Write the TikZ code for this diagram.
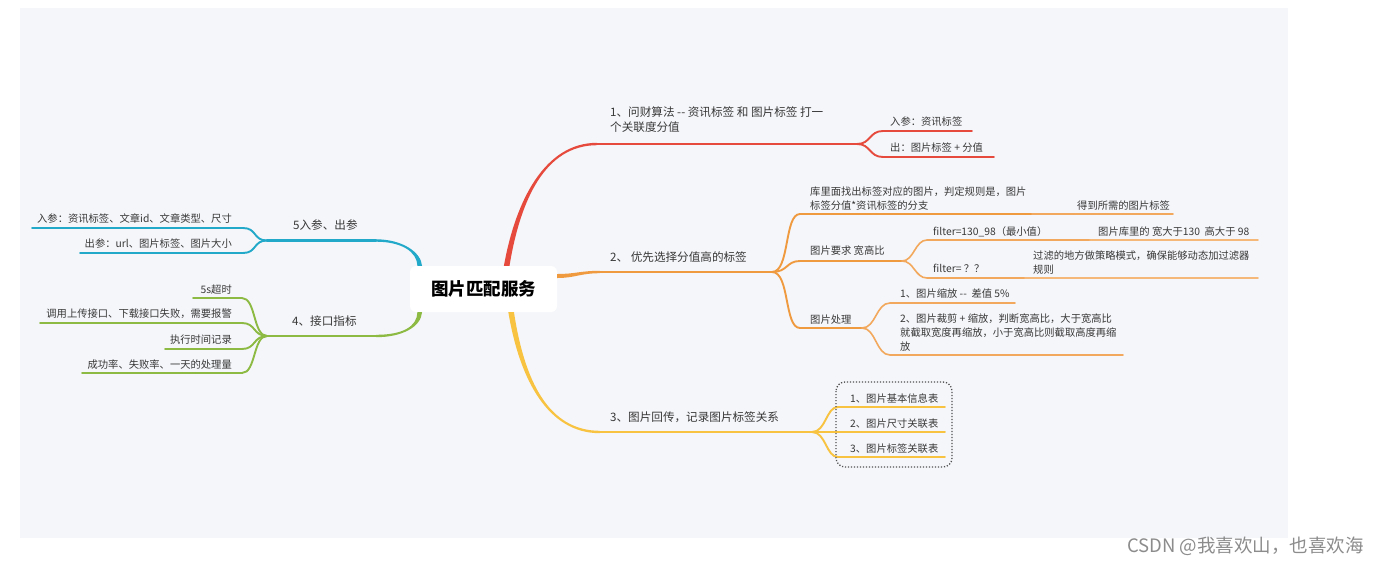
\documentclass[tikz,border=0pt]{standalone}
\usepackage{fontspec}
\newfontfamily\cjk{Noto Sans CJK SC}[Ligatures=TeXOff]
\usetikzlibrary{calc}
\definecolor{bgpanel}{HTML}{F5F6FA}
\definecolor{cred}{HTML}{E64A3D}
\definecolor{corange}{HTML}{F09A40}
\definecolor{cyellow}{HTML}{F7C340}
\definecolor{cgreen}{HTML}{8CBA42}
\definecolor{cteal}{HTML}{22A8C8}
\definecolor{txt}{HTML}{383838}
\definecolor{wm}{HTML}{8C8C8C}
\definecolor{boxgray}{HTML}{505050}
\colorlet{corange2}{corange!85!white}
\colorlet{corange3}{corange!70!white}
\begin{document}
\begin{tikzpicture}[x=1pt,y=-1pt,
  small/.style={font=\cjk\fontsize{10.3}{14}\selectfont, text=txt, inner sep=0pt, align=left},
  topic/.style={font=\cjk\fontsize{11.6}{15.5}\selectfont, text=txt, inner sep=0pt, align=left},
  sub/.style={line width=1.9pt, line cap=round},
  subsub/.style={line width=1.6pt, line cap=round},
  mainline/.style={line width=2.4pt, line cap=round},
  rootbox/.style={fill=white, rounded corners=6pt, minimum width=147pt, minimum height=46pt, inner sep=0pt, font=\cjk\bfseries\fontsize{17.5}{20}\selectfont, text=black},
  dotbox/.style={draw=boxgray, line width=1.3pt, dash pattern=on 1.2pt off 1.8pt, rounded corners=9pt},
]
\useasboundingbox (0,0) rectangle (1380,565);
\fill[white] (0,0) rectangle (1380,565);
\fill[bgpanel] (20,8) rectangle (1288,538);

\node[rootbox] (root) at (483.5,289) {图片匹配服务};

% ================= red branch
\coordinate (rS) at (root.45);
\coordinate (rC1) at (518,200);
\coordinate (rC2) at (545,144);
\coordinate (r1) at (597,144);
\coordinate (rf) at (857,144);
\fill[cred] ($(rS)+(-2.8,0)$) .. controls ($(rC1)+(-2.3,0)$) and ($(rC2)+(0,-1.2)$) .. ($(r1)+(0,-1.2)$) -- ($(r1)+(0,1.2)$) .. controls ($(rC2)+(0,1.2)$) and ($(rC1)+(2.3,0)$) .. ($(rS)+(2.8,0)$) -- cycle;
\draw[mainline,cred] (r1) -- (rf);
\node[topic, anchor=south west] (t1) at (610,136.6) {1、问财算法 -- 资讯标签 和 图片标签 打一\\个关联度分值\strut};
\coordinate (ra1) at (883,131); \coordinate (ra2) at (972,131);
\coordinate (rb1) at (883,157); \coordinate (rb2) at (994,157);
\draw[sub,cred] (rf) .. controls +(14,0) and +(-14,0) .. (ra1) -- (ra2);
\draw[sub,cred] (rf) .. controls +(14,0) and +(-14,0) .. (rb1) -- (rb2);
\node[small, anchor=base west] (ra) at (890,125.5) {入参：资讯标签};
\node[small, anchor=base west] (rb) at (890,151) {出：图片标签 + 分值};

% ================= orange branch
\coordinate (oS) at (root.10);
\coordinate (o1) at (600,272);
\coordinate (of) at (772,272);
\fill[corange] ($(oS)+(0,-2)$) .. controls ($(oS)+(18,-2)$) and ($(o1)+(-20,-1.2)$) .. ($(o1)+(0,-1.2)$) -- ($(o1)+(0,1.2)$) .. controls ($(o1)+(-20,1.2)$) and ($(oS)+(18,2)$) .. ($(oS)+(0,2)$) -- cycle;
\draw[mainline,corange] (o1) -- (of);
\node[topic, anchor=base west] (t2) at (610,261) {2、 优先选择分值高的标签};

\coordinate (oa1) at (800,214); \coordinate (oa2) at (1032,214); \coordinate (oa3) at (1173,214);
\coordinate (ob1) at (800,261); \coordinate (ob2) at (902,261);
\coordinate (oc1) at (800,328); \coordinate (oc2) at (862,328);
\draw[sub,corange] (of) .. controls +(18,0) and +(-16,0) .. (oa1) -- (oa2);
\draw[subsub,corange2] (oa2) -- (oa3);
\draw[sub,corange] (of) .. controls +(16,0) and +(-14,0) .. (ob1) -- (ob2);
\draw[sub,corange] (of) .. controls +(18,0) and +(-16,0) .. (oc1) -- (oc2);
\node[small, anchor=south west] (oa) at (810,214.2) {库里面找出标签对应的图片，判定规则是，图片\\标签分值*资讯标签的分支\strut};
\node[small, anchor=base west] (oag) at (1077,209) {得到所需的图片标签};
\node[small, anchor=base west] (ob) at (810,254) {图片要求 宽高比};
\node[small, anchor=base west] (oc) at (810,323) {图片处理};

\coordinate (ob11) at (927,240); \coordinate (ob12) at (1090,240); \coordinate (ob13) at (1258,240);
\coordinate (ob21) at (927,278); \coordinate (ob22) at (1025,278); \coordinate (ob23) at (1258,278);
\draw[subsub,corange2] (ob2) .. controls +(12,0) and +(-12,0) .. (ob11) -- (ob12);
\draw[subsub,corange3] (ob12) -- (ob13);
\draw[subsub,corange2] (ob2) .. controls +(12,0) and +(-12,0) .. (ob21) -- (ob22);
\draw[subsub,corange3] (ob22) -- (ob23);
\node[small, anchor=base west] (obf1) at (933,235) {filter=130\_98（最小值）};
\node[small, anchor=base west] (obf1g) at (1098,235) {图片库里的 宽大于130 \ 高大于 98};
\node[small, anchor=base west] (obf2) at (933,272) {filter= ？？};
\node[small, anchor=south west] (obf2g) at (1033,277.7) {过滤的地方做策略模式，确保能够动态加过滤器\\规则\strut};

\coordinate (oc11) at (890,303); \coordinate (oc12) at (1015,303);
\coordinate (oc21) at (890,355); \coordinate (oc22) at (1123,355);
\draw[subsub,corange2] (oc2) .. controls +(14,0) and +(-14,0) .. (oc11) -- (oc12);
\draw[subsub,corange2] (oc2) .. controls +(14,0) and +(-14,0) .. (oc21) -- (oc22);
\node[small, anchor=base west] (oca) at (900,297) {1、图片缩放 -- \ 差值 5\%};
\node[small, anchor=south west] (ocb) at (900,355.2) {2、图片裁剪 + 缩放，判断宽高比，大于宽高比\\就截取宽度再缩放，小于宽高比则截取高度再缩\\放\strut};

% ================= yellow branch
\coordinate (yS) at (root.-40);
\coordinate (yC1) at (522,380);
\coordinate (yC2) at (548,432);
\coordinate (y1) at (600,432);
\coordinate (yf) at (812,432);
\fill[cyellow] ($(yS)+(-2.8,0)$) .. controls ($(yC1)+(-2.3,0)$) and ($(yC2)+(0,1.2)$) .. ($(y1)+(0,1.2)$) -- ($(y1)+(0,-1.2)$) .. controls ($(yC2)+(0,-1.2)$) and ($(yC1)+(2.3,0)$) .. ($(yS)+(2.8,0)$) -- cycle;
\draw[mainline,cyellow] (y1) -- (yf);
\node[topic, anchor=base west] (t3) at (610,421) {3、图片回传，记录图片标签关系};
\coordinate (ya1) at (838,407); \coordinate (ya2) at (945,407);
\coordinate (yb1) at (838,432); \coordinate (yb2) at (945,432);
\coordinate (yc1) at (838,457); \coordinate (yc2) at (945,457);
\draw[sub,cyellow] (yf) .. controls +(14,0) and +(-12,0) .. (ya1) -- (ya2);
\draw[sub,cyellow] (yf) -- (yb1) -- (yb2);
\draw[sub,cyellow] (yf) .. controls +(14,0) and +(-12,0) .. (yc1) -- (yc2);
\node[small, anchor=base west] (ya) at (850,402) {1、图片基本信息表};
\node[small, anchor=base west] (yb) at (850,427) {2、图片尺寸关联表};
\node[small, anchor=base west] (yc) at (850,452) {3、图片标签关联表};
\draw[dotbox] (836,382) rectangle (952,467);

% ================= green branch
\coordinate (gS) at (root.200);
\coordinate (gC1) at (419,327);
\coordinate (gC2) at (402,336);
\coordinate (g1) at (376,336);
\coordinate (gf) at (267,336);
\fill[cgreen] ($(gS)+(2.3,0)$) .. controls ($(gC1)+(2,0)$) and ($(gC2)+(0,1.2)$) .. ($(g1)+(0,1.2)$) -- ($(g1)+(0,-1.2)$) .. controls ($(gC2)+(0,-1.2)$) and ($(gC1)+(-2,0)$) .. ($(gS)+(-2.3,0)$) -- cycle;
\draw[mainline,cgreen] (g1) -- (gf);
\node[topic, anchor=base west] (t4) at (292,325) {4、接口指标};
\coordinate (ga1) at (193,298); \coordinate (ga2) at (242,298);
\coordinate (gb1) at (40,323);  \coordinate (gb2) at (242,323);
\coordinate (gc1) at (165,349); \coordinate (gc2) at (242,349);
\coordinate (gd1) at (82,373);  \coordinate (gd2) at (242,373);
\draw[sub,cgreen] (gf) .. controls +(-14,0) and +(14,0) .. (ga2) -- (ga1);
\draw[sub,cgreen] (gf) .. controls +(-14,0) and +(14,0) .. (gb2) -- (gb1);
\draw[sub,cgreen] (gf) .. controls +(-14,0) and +(14,0) .. (gc2) -- (gc1);
\draw[sub,cgreen] (gf) .. controls +(-14,0) and +(14,0) .. (gd2) -- (gd1);
\node[small, anchor=base east] (ga) at (232,293.5) {5s超时};
\node[small, anchor=base east] (gb) at (232,317) {调用上传接口、下载接口失败，需要报警};
\node[small, anchor=base east] (gc) at (232,343) {执行时间记录};
\node[small, anchor=base east] (gd) at (232,368) {成功率、失败率、一天的处理量};

% ================= teal branch
\coordinate (tS) at (root.160);
\coordinate (tC1) at (419,252);
\coordinate (tC2) at (402,240.5);
\coordinate (tl) at (376,240.5);
\coordinate (tf) at (267,240.5);
\fill[cteal] ($(tS)+(2.3,0)$) .. controls ($(tC1)+(2,0)$) and ($(tC2)+(0,-1.2)$) .. ($(tl)+(0,-1.2)$) -- ($(tl)+(0,1.2)$) .. controls ($(tC2)+(0,1.2)$) and ($(tC1)+(-2,0)$) .. ($(tS)+(-2.3,0)$) -- cycle;
\draw[mainline,cteal] (tl) -- (tf);
\node[topic, anchor=base west] (t5) at (293,229) {5入参、出参};
\coordinate (ta1) at (32,228); \coordinate (ta2) at (243,228);
\coordinate (tb1) at (80,253); \coordinate (tb2) at (243,253);
\draw[sub,cteal] (tf) .. controls +(-14,0) and +(14,0) .. (ta2) -- (ta1);
\draw[sub,cteal] (tf) .. controls +(-14,0) and +(14,0) .. (tb2) -- (tb1);
\node[small, anchor=base east] (ta) at (232,222) {入参：资讯标签、文章id、文章类型、尺寸};
\node[small, anchor=base east] (tb) at (232,247) {出参：url、图片标签、图片大小};

% ================= watermark
\node[font=\cjk\fontsize{18.5}{22}\selectfont, text=wm, anchor=base east, inner sep=0pt] (wmark) at (1364,552) {CSDN @我喜欢山，也喜欢海};
\end{tikzpicture}
\end{document}
